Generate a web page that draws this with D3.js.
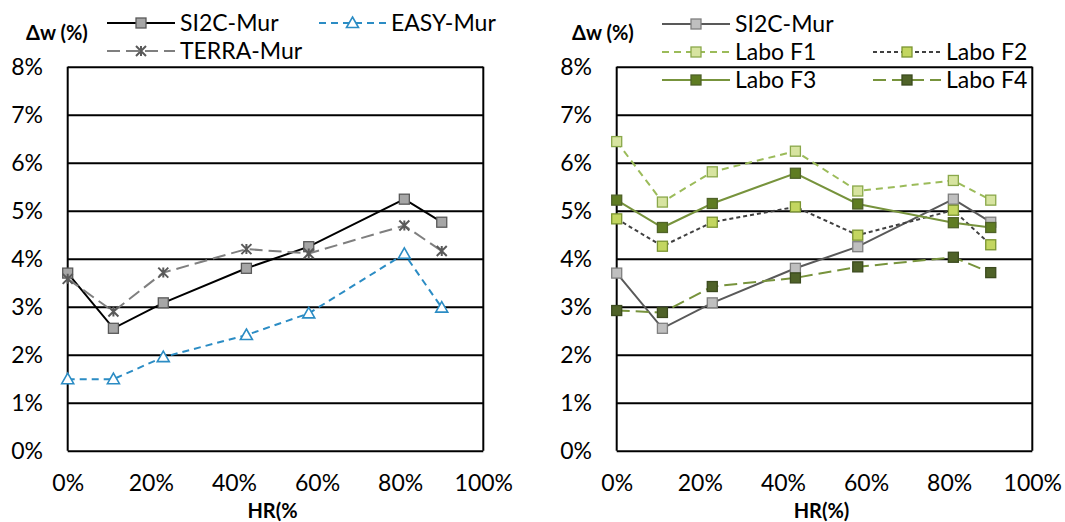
<!DOCTYPE html>
<html>
<head>
<meta charset="utf-8">
<script src="https://cdn.jsdelivr.net/npm/d3@7/dist/d3.min.js"></script>
<style>
  html, body { margin: 0; padding: 0; background: #fff; }
  svg { display: block; font-family: Lato, "Noto Sans", sans-serif; }
</style>
</head>
<body>
<svg id="chart" width="1065" height="522"></svg>
<script>
// ---- data ----
const hr = [0, 11, 23, 43, 58, 81, 90];
const xTicks = [0, 20, 40, 60, 80, 100];
const yTicks = [0, 1, 2, 3, 4, 5, 6, 7, 8];
const si2cMur = [3.70, 2.55, 3.08, 3.80, 4.25, 5.24, 4.76];
const easyMur = [1.49, 1.49, 1.95, 2.41, 2.86, 4.10, 2.98];
const terraMur = [3.58, 2.90, 3.71, 4.20, 4.11, 4.69, 4.16];
const laboF1 = [6.44, 5.18, 5.81, 6.24, 5.41, 5.63, 5.22];
const laboF2 = [4.83, 4.26, 4.76, 5.08, 4.49, 5.01, 4.29];
const laboF3 = [5.22, 4.65, 5.15, 5.78, 5.14, 4.75, 4.65];
const laboF4 = [2.92, 2.88, 3.42, 3.60, 3.83, 4.03, 3.71];
const yTitle = "\u0394w (%)";
const xTitles = ["HR(%", "HR(%)"];

// ---- styles ----
const styles = {
  si2cL: {name: "SI2C-Mur", color: "#000", width: 2, dash: null, marker: "square", fill: "#a6a6a6", mstroke: "#595959"},
  easy:  {name: "EASY-Mur", color: "#2b8cc4", width: 2, dash: "7,5", marker: "triangle", fill: "#ffffff", mstroke: "#2b8cc4"},
  terra: {name: "TERRA-Mur", color: "#7f7f7f", width: 2, dash: "13,6", marker: "star", fill: "none", mstroke: "#595959"},
  si2cR: {name: "SI2C-Mur", color: "#595959", width: 2, dash: null, marker: "square", fill: "#bfbfbf", mstroke: "#7f7f7f"},
  f1:    {name: "Labo F1", color: "#9bbb59", width: 2, dash: "7,5", marker: "square", fill: "#d7e4a0", mstroke: "#8aa84a"},
  f2:    {name: "Labo F2", color: "#404040", width: 2, dash: "4,3", marker: "square", fill: "#c3d660", mstroke: "#7a9430"},
  f3:    {name: "Labo F3", color: "#77933c", width: 2, dash: null, marker: "square", fill: "#5f7c22", mstroke: "#4f6228"},
  f4:    {name: "Labo F4", color: "#77933c", width: 2, dash: "13,6", marker: "square", fill: "#4f6228", mstroke: "#3b4a1e"}
};

const svg = d3.select("#chart");
const yTop = 66.7, yBot = 450.7;
const y = d3.scaleLinear().domain([0, 8]).range([yBot, yTop]);

function drawMarker(g, type, cx, cy, st) {
  if (type === "square") {
    g.append("rect").attr("x", cx - 5).attr("y", cy - 5).attr("width", 10).attr("height", 10)
      .attr("fill", st.fill).attr("stroke", st.mstroke).attr("stroke-width", 1.3);
  } else if (type === "triangle") {
    g.append("path").attr("d", `M${cx},${cy - 6}L${cx + 6},${cy + 4.5}L${cx - 6},${cy + 4.5}Z`)
      .attr("fill", st.fill).attr("stroke", st.mstroke).attr("stroke-width", 1.6);
  } else if (type === "star") {
    const r = 5;
    g.append("path").attr("d", `M${cx - r},${cy - r}L${cx + r},${cy + r}M${cx - r},${cy + r}L${cx + r},${cy - r}M${cx},${cy - r}L${cx},${cy + r}`)
      .attr("fill", "none").attr("stroke", st.mstroke).attr("stroke-width", 2);
  }
}

function panel(x0, x1, series, xTitle, labelRight) {
  const x = d3.scaleLinear().domain([0, 100]).range([x0, x1]);
  const g = svg.append("g");
  // gridlines
  g.append("g").attr("transform", `translate(${x0},0)`)
    .call(d3.axisLeft(y).tickValues(yTicks).tickSize(-(x1 - x0)).tickFormat(""))
    .call(a => a.select(".domain").remove())
    .call(a => a.selectAll("line").attr("stroke", "#000").attr("stroke-width", 2));
  // frame sides
  g.append("line").attr("x1", x0).attr("x2", x0).attr("y1", yTop).attr("y2", yBot).attr("stroke", "#000").attr("stroke-width", 2);
  g.append("line").attr("x1", x1).attr("x2", x1).attr("y1", yTop).attr("y2", yBot).attr("stroke", "#000").attr("stroke-width", 2);
  // y labels
  g.append("g").attr("transform", `translate(${labelRight},0)`)
    .call(d3.axisLeft(y).tickValues(yTicks).tickSize(0).tickPadding(0).tickFormat(d => d + "%"))
    .call(a => a.select(".domain").remove())
    .call(a => a.selectAll("text").attr("font-family", "Lato").attr("font-size", 23).attr("fill", "#000"));
  // x labels
  g.append("g").attr("transform", `translate(0,${yBot + 24})`)
    .call(d3.axisBottom(x).tickValues(xTicks).tickSize(0).tickPadding(0).tickFormat(d => d + "%"))
    .call(a => a.select(".domain").remove())
    .call(a => a.selectAll("text").attr("font-family", "Lato").attr("font-size", 23).attr("fill", "#000"));
  // x title
  g.append("text").attr("x", (x0 + x1) / 2 - 3).attr("y", 518).attr("text-anchor", "middle")
    .attr("font-family", "Lato").attr("font-weight", "bold").attr("font-size", 20).text(xTitle);
  // series
  series.forEach(s => {
    const st = s.style;
    const pts = hr.map((h, i) => [h, s.values[i]]);
    const sg = g.append("g");
    sg.append("path").datum(pts)
      .attr("d", d3.line().x(d => x(d[0])).y(d => y(d[1])))
      .attr("fill", "none").attr("stroke", st.color).attr("stroke-width", st.width)
      .attr("stroke-dasharray", st.dash);
    pts.forEach(d => drawMarker(sg, st.marker, x(d[0]), y(d[1]), st));
  });
  return g;
}

function legendItem(lx0, lx1, ly, st) {
  const g = svg.append("g");
  g.append("line").attr("x1", lx0).attr("x2", lx1).attr("y1", ly).attr("y2", ly)
    .attr("stroke", st.color).attr("stroke-width", st.width).attr("stroke-dasharray", st.dash);
  drawMarker(g, st.marker, (lx0 + lx1) / 2, ly, st);
  g.append("text").attr("x", lx1 + 5).attr("y", ly).attr("dy", "0.35em")
    .attr("font-family", "Lato").attr("font-size", 23).attr("fill", "#000").text(st.name);
}

// left panel
panel(67.7, 483.3, [
  {values: si2cMur, style: styles.si2cL},
  {values: easyMur, style: styles.easy},
  {values: terraMur, style: styles.terra}
], xTitles[0], 43);

// right panel
panel(616.7, 1032.3, [
  {values: si2cMur, style: styles.si2cR},
  {values: laboF1, style: styles.f1},
  {values: laboF2, style: styles.f2},
  {values: laboF3, style: styles.f3},
  {values: laboF4, style: styles.f4}
], xTitles[1], 592);

// y titles
[[26, 40], [572, 40]].forEach(p => {
  svg.append("text").attr("x", p[0]).attr("y", p[1])
    .attr("font-family", "Lato").attr("font-weight", "bold").attr("font-size", 20).text(yTitle);
});

// legends: left
legendItem(107, 175, 23, styles.si2cL);
legendItem(319, 386, 23, styles.easy);
legendItem(107, 175, 51, styles.terra);
// legends: right
legendItem(662, 730, 24, styles.si2cR);
legendItem(662, 730, 52, styles.f1);
legendItem(873, 941, 52, styles.f2);
legendItem(662, 730, 80, styles.f3);
legendItem(873, 941, 80, styles.f4);
</script>
</body>
</html>
